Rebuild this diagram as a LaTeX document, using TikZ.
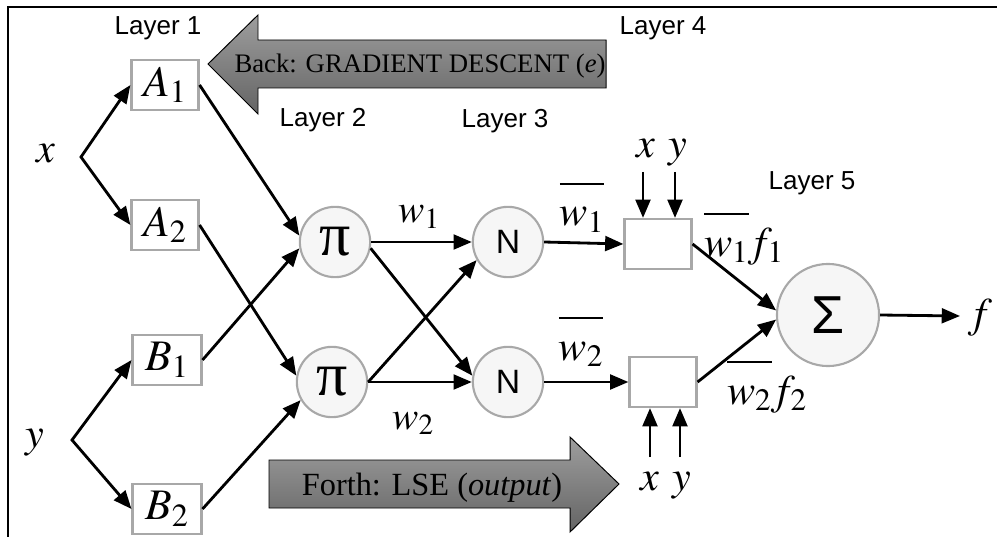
\documentclass[tikz,border=0pt]{standalone}
\usepackage{mathptmx}
\usepackage{fontspec}
\setmainfont{Liberation Serif}
\newfontfamily\layerfont{Liberation Sans}
\usetikzlibrary{arrows.meta}

\definecolor{rimgray}{RGB}{168,168,168}
\definecolor{cellfill}{RGB}{246,246,246}
\definecolor{bannertop}{RGB}{158,158,158}
\definecolor{bannerbot}{RGB}{100,100,100}

\tikzset{
  >={Triangle[length=13pt,width=10.5pt]},
  wire/.style={line width=2pt, ->},
  cell/.style={draw=rimgray, line width=1.5pt, fill=white, minimum width=47.7pt, minimum height=35.6pt, inner sep=0pt, font=\fontsize{31}{33}\selectfont},
  unit/.style={circle, draw=rimgray, line width=1.5pt, fill=cellfill, minimum size=50pt, inner sep=0pt},
  layer/.style={anchor=base, font=\layerfont\fontsize{18.5}{20}\selectfont},
  sym/.style={anchor=base, font=\fontsize{30}{32}\selectfont},
  weight/.style={anchor=base, font=\fontsize{28}{30}\selectfont},
  banner/.style={top color=bannertop, bottom color=bannerbot, draw=black, line width=0.7pt},
}

\begin{document}
\begin{tikzpicture}[x=0.025cm, y=-0.025cm]
    \useasboundingbox (0,0) rectangle (997,537);
    \draw[line width=1.8pt] (8,537) -- (8,7) -- (997,7);

    % back and forth
    \shade[banner] (208,64) -- (258,15) -- (258,40) -- (606,40) -- (606,88) -- (258,88) -- (258,114) -- cycle;
    \node[anchor=base, font=\fontsize{19}{21}\selectfont] (back) at (420,73) {Back: GRADIENT DESCENT (\textit{e})};
    \shade[banner] (269,460) -- (570,460) -- (570,437) -- (619,484) -- (570,532) -- (570,508) -- (269,508) -- cycle;
    \node[anchor=base, font=\fontsize{23}{25}\selectfont] (forth) at (432,495) {Forth: LSE (\textit{output})};

    \node[layer] (l1) at (158,35) {Layer 1};
    \node[layer] (l2) at (323,127) {Layer 2};
    \node[layer] (l3) at (505,128) {Layer 3};
    \node[layer] (l4) at (663,35) {Layer 4};
    \node[layer] (l5) at (812,190) {Layer 5};

    \node[cell] (A1) at (165,85) {$A_1$};
    \node[cell] (A2) at (165,225) {$A_2$};
    \node[cell, minimum width=49pt] (B1) at (167,360) {$B_1$};
    \node[cell, minimum width=49pt] (B2) at (167,509) {$B_2$};

    \node[unit] (p1) at (335,242) {\fontsize{44}{46}\selectfont π};
    \node[unit] (p2) at (332,382) {\fontsize{44}{46}\selectfont π};
    \node[unit, font=\layerfont\fontsize{24}{26}\selectfont] (n1) at (508,242) {N};
    \node[unit, font=\layerfont\fontsize{24}{26}\selectfont] (n2) at (508,382) {N};
    \node[cell] (r1) at (658,244) {};
    \node[cell] (r2) at (663,382) {};
    \node[unit, minimum size=72.6pt] (s) at (828,315) {\layerfont\fontsize{38}{40}\selectfont Σ};

    \coordinate (xb) at (81,157);
    \coordinate (yb) at (72,440);
    \coordinate (xa) at (643,172);
    \coordinate (ya) at (675,172);
    \coordinate (xc) at (650,457);
    \coordinate (yc) at (680,457);
    \coordinate (fo) at (960,316);

    \node[sym] (xl) at (46,163) {$x$};
    \node[sym] (yl) at (35,447) {$y$};
    \node[sym] (xt) at (646,158) {$x$};
    \node[sym] (yt) at (678,158) {$y$};
    \node[sym] (xd) at (650,490) {$x$};
    \node[sym] (yd) at (682,490) {$y$};
    \node[sym] (fl) at (980,327) {$f$};
    \node[weight] (w1) at (419,223) {$w_1$};
    \node[weight] (w2) at (413,429) {$w_2$};
    \node[sym] (nw1) at (582,226) {$\overline{\rule{0pt}{0.85em}w_1}$};
    \node[sym] (nw2) at (581,360) {$\overline{\rule{0pt}{0.85em}w_2}$};
    \node[sym] (o1) at (744,256) {$\overline{\rule{0pt}{0.85em}w_1}f_1$};
    \node[sym] (o2) at (767,404) {$\overline{\rule{0pt}{0.85em}w_2}f_2$};

    % connectors
    \draw[wire, <->] (A1.west) -- (xb) -- (A2.west);
    \draw[wire, <->] (B1.west) -- (yb) -- (B2.west);
    \draw[wire] (A1.east) -- (p1.170);
    \draw[wire] (B1.east) -- (p1.190);
    \draw[wire] (A2.east) -- (p2.170);
    \draw[wire] (B2.east) -- (p2.210);
    \draw[wire] (p1.east) -- (n1.west);
    \draw[wire] (p1.-10) -- (n2.170);
    \draw[wire] (p2.east) -- (n1.210);
    \draw[wire] (p2.east) -- (n2.west);
    \draw[wire] (n1.east) -- (r1.west);
    \draw[wire] (n2.east) -- (r2.west);
    \draw[wire] (xa) -- (xa |- r1.north);
    \draw[wire] (ya) -- (ya |- r1.north);
    \draw[wire] (xc) -- (xc |- r2.south);
    \draw[wire] (yc) -- (yc |- r2.south);
    \draw[wire] (r1.east) -- (s.175);
    \draw[wire] (r2.east) -- (s.185);
    \draw[wire] (s.east) -- (fo);
\end{tikzpicture}
\end{document}
